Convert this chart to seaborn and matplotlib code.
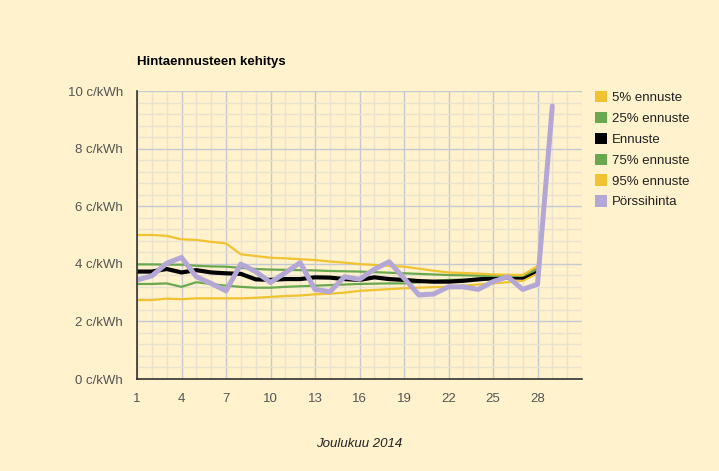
import numpy as np
import pandas as pd
import matplotlib
matplotlib.use("Agg")
import matplotlib.pyplot as plt
from matplotlib.patches import Patch
from matplotlib.ticker import MultipleLocator, FixedLocator
import seaborn as sns

# Joulukuu 2014, päivät
days = list(range(1, 29))
days_spot = list(range(1, 30))

p5 = [2.74, 2.74, 2.79, 2.77, 2.80, 2.80, 2.80, 2.80, 2.82, 2.85, 2.88, 2.90, 2.94, 2.96,
      3.00, 3.06, 3.09, 3.12, 3.15, 3.17, 3.19, 3.20, 3.24, 3.28, 3.32, 3.36, 3.41, 3.67]
p25 = [3.30, 3.30, 3.32, 3.20, 3.36, 3.30, 3.24, 3.20, 3.17, 3.17, 3.20, 3.22, 3.24, 3.26,
       3.28, 3.30, 3.31, 3.32, 3.32, 3.36, 3.40, 3.44, 3.45, 3.45, 3.46, 3.50, 3.53, 3.78]
ennuste = [3.73, 3.73, 3.82, 3.70, 3.78, 3.70, 3.67, 3.65, 3.46, 3.44, 3.47, 3.47, 3.53, 3.52,
           3.47, 3.44, 3.53, 3.47, 3.44, 3.40, 3.38, 3.38, 3.41, 3.46, 3.50, 3.53, 3.52, 3.78]
p75 = [3.98, 3.98, 3.97, 3.97, 3.93, 3.91, 3.90, 3.86, 3.82, 3.80, 3.79, 3.78, 3.77, 3.75,
       3.74, 3.73, 3.71, 3.69, 3.67, 3.65, 3.63, 3.61, 3.60, 3.59, 3.58, 3.58, 3.58, 3.81]
p95 = [5.00, 5.00, 4.97, 4.85, 4.83, 4.76, 4.71, 4.33, 4.27, 4.21, 4.19, 4.16, 4.13, 4.08,
       4.04, 3.99, 3.96, 3.93, 3.90, 3.83, 3.76, 3.70, 3.68, 3.66, 3.63, 3.62, 3.61, 3.92]
porssi = [3.44, 3.58, 4.02, 4.22, 3.55, 3.32, 3.06, 3.99, 3.73, 3.35, 3.69, 4.04, 3.11, 3.03,
          3.55, 3.46, 3.81, 4.07, 3.50, 2.92, 2.95, 3.20, 3.20, 3.11, 3.38, 3.55, 3.11, 3.29, 9.48]

labels = ["5% ennuste", "25% ennuste", "Ennuste", "75% ennuste", "95% ennuste", "Pörssihinta"]
colors = ["#f1c232", "#6aa84f", "#000000", "#6aa84f", "#f1c232", "#b4a7d6"]
widths = [1.6, 1.6, 3.0, 1.6, 1.6, 3.6]
series = [p5, p25, ennuste, p75, p95, porssi]

bg = "#fff2cc"
sns.set_theme(style="white")
plt.rcParams["font.family"] = ["Liberation Sans", "DejaVu Sans"]

fig = plt.figure(figsize=(7.19, 4.71), dpi=100, facecolor=bg)
ax = fig.add_axes([137 / 719, 1 - 379 / 471, 445 / 719, 288 / 471])
ax.set_facecolor(bg)

for lab, col, lw, vals in zip(labels, colors, widths, series):
    x = days_spot if lab == "Pörssihinta" else days
    df = pd.DataFrame({"day": x, "value": vals})
    sns.lineplot(data=df, x="day", y="value", color=col, linewidth=lw, ax=ax,
                 solid_joinstyle="miter" if lw < 3 else "round")

ax.set_xlim(1, 31)
ax.set_ylim(0, 10)
ax.xaxis.set_major_locator(FixedLocator(list(range(1, 29, 3))))
ax.xaxis.set_minor_locator(MultipleLocator(1))
ax.yaxis.set_major_locator(MultipleLocator(2))
ax.yaxis.set_minor_locator(MultipleLocator(0.4))
ax.set_yticklabels([f"{int(v)} c/kWh" for v in ax.get_yticks()])

ax.grid(which="minor", color="#e8e2cf", linewidth=1.0)
ax.grid(which="major", color="#c6c8d2", linewidth=1.0)
ax.set_axisbelow(True)
ax.tick_params(which="both", length=0, labelsize=9.5, colors="#555555", pad=10)

for s in ["top", "right"]:
    ax.spines[s].set_visible(False)
for s in ["left", "bottom"]:
    ax.spines[s].set_color("#333333")
    ax.spines[s].set_linewidth(1.2)

ax.set_xlabel("Joulukuu 2014", fontsize=9.5, style="italic", color="#222222", labelpad=24)
ax.set_ylabel("")
fig.text(137 / 719, 1 - 62 / 471, "Hintaennusteen kehitys", fontsize=9.5,
         fontweight="bold", color="#000000", va="center", ha="left")

handles = [Patch(facecolor=c, edgecolor="none") for c in colors]
fig.legend(handles, labels, loc="upper left", bbox_to_anchor=(583 / 719, 1 - 79 / 471),
           frameon=False, fontsize=9.5, handlelength=0.95, handleheight=0.95,
           handletextpad=0.35, labelspacing=0.58, labelcolor="#222222")

fig.savefig("out.png", dpi=100, facecolor=bg)
